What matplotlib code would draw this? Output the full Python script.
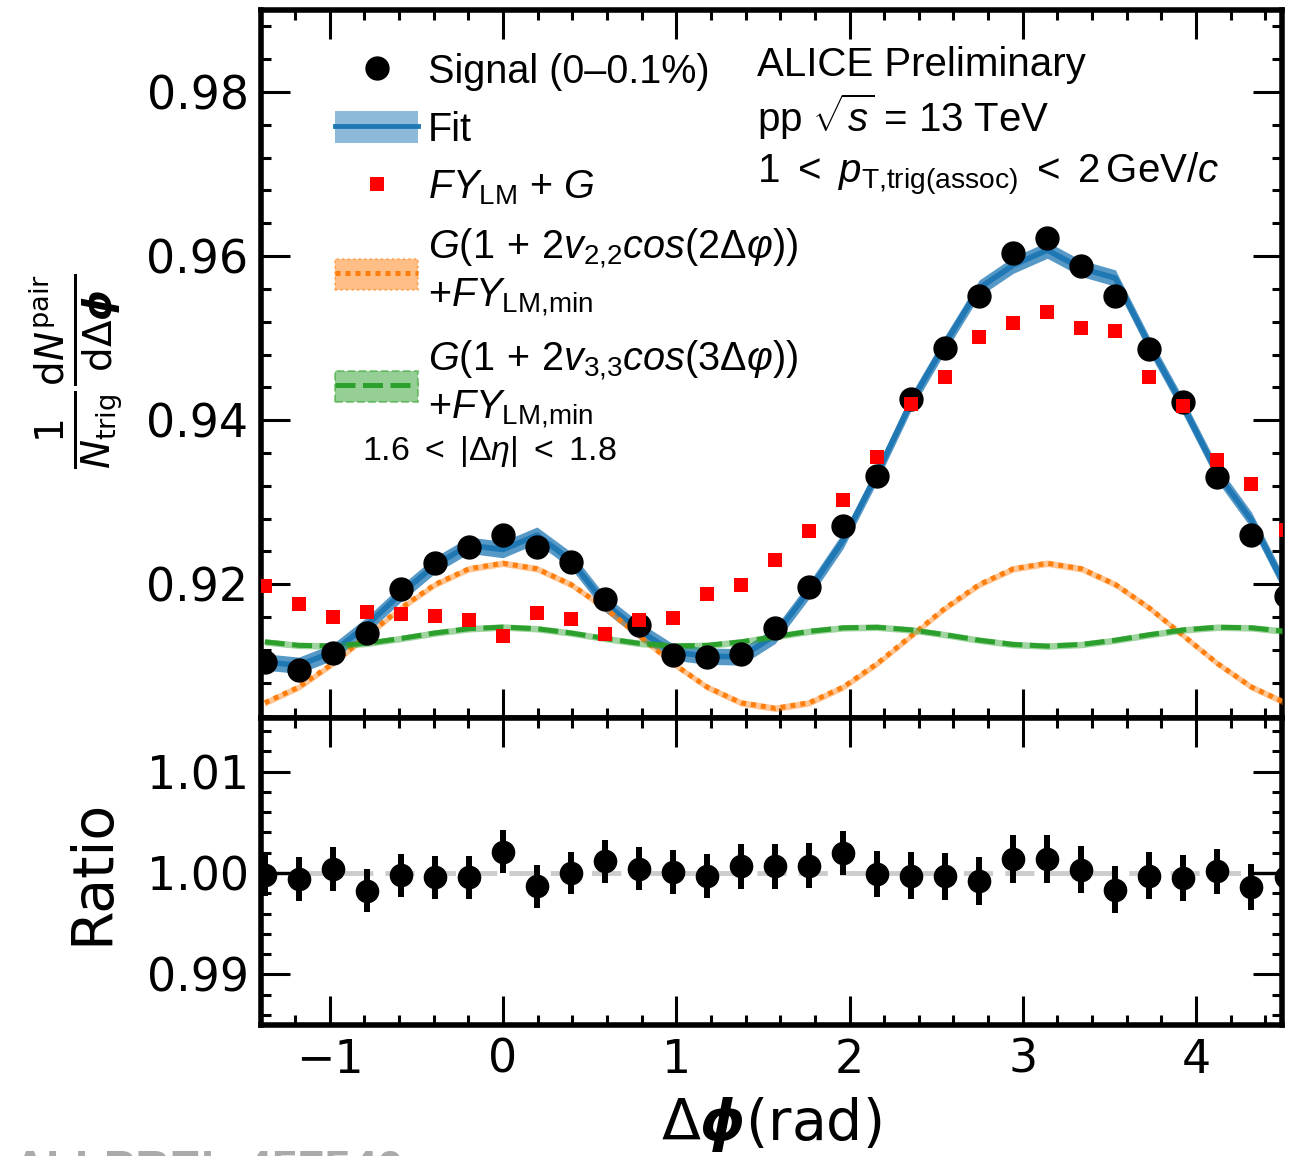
import numpy as np
import matplotlib
matplotlib.use("Agg")
import matplotlib.pyplot as plt
from matplotlib.lines import Line2D
from matplotlib.patches import Patch
from matplotlib.ticker import MultipleLocator, FormatStrFormatter

plt.rcParams.update({
    "font.family": "DejaVu Sans",
    "mathtext.fontset": "custom",
    "mathtext.rm": "Liberation Sans",
    "mathtext.it": "Liberation Sans:italic",
    "mathtext.bf": "Liberation Sans:bold",
    "mathtext.sf": "Liberation Sans",
})

# delta-phi bin centres, pi/16 wide
bin_index = np.arange(-7, 24)
dphi = bin_index * np.pi / 16

signal = np.array([
    0.91053, 0.90960, 0.91167, 0.91411, 0.91947, 0.92260, 0.92455, 0.92606,
    0.92455, 0.92272, 0.91825, 0.91508, 0.91134, 0.91114, 0.91155, 0.91472,
    0.91967, 0.92707, 0.93317, 0.94264, 0.94874, 0.95512, 0.96033, 0.96216,
    0.95878, 0.95512, 0.94862, 0.94223, 0.93309, 0.92598, 0.91854,
])
fit = np.array([
    0.91053, 0.91012, 0.91174, 0.91500, 0.91886, 0.92232, 0.92476, 0.92423,
    0.92598, 0.92293, 0.91764, 0.91439, 0.91174, 0.91124, 0.91114, 0.91378,
    0.91927, 0.92537, 0.93350, 0.94224, 0.94935, 0.95610, 0.95890, 0.96073,
    0.95850, 0.95732, 0.94915, 0.94163, 0.93350, 0.92780, 0.91967,
])
fy_plus_g = np.array([
    0.91976, 0.91756, 0.91601, 0.91662, 0.91642, 0.91614, 0.91561, 0.91366,
    0.91655, 0.91573, 0.91399, 0.91561, 0.91594, 0.91886, 0.91996, 0.92293,
    0.92646, 0.93033, 0.93553, 0.94203, 0.94528, 0.95008, 0.95179, 0.95321,
    0.95118, 0.95089, 0.94528, 0.94171, 0.93512, 0.93228, 0.92659,
])
v22_curve = np.array([
    0.90555, 0.90747, 0.91034, 0.91372, 0.91710, 0.91997, 0.92189, 0.92256,
    0.92189, 0.91997, 0.91710, 0.91372, 0.91034, 0.90747, 0.90555, 0.90488,
    0.90555, 0.90747, 0.91034, 0.91372, 0.91710, 0.91997, 0.92189, 0.92256,
    0.92189, 0.91997, 0.91710, 0.91372, 0.91034, 0.90747, 0.90555,
])
v33_curve = np.array([
    0.91298, 0.91255, 0.91248, 0.91280, 0.91339, 0.91406, 0.91458, 0.91478,
    0.91458, 0.91406, 0.91339, 0.91280, 0.91248, 0.91255, 0.91298, 0.91362,
    0.91426, 0.91469, 0.91476, 0.91444, 0.91385, 0.91318, 0.91266, 0.91246,
    0.91266, 0.91318, 0.91385, 0.91444, 0.91476, 0.91469, 0.91426,
])
ratio = np.array([
    0.99983, 0.99941, 1.00039, 0.99826, 0.99977, 0.99957, 0.99957, 1.00212,
    0.99869, 1.00000, 1.00114, 1.00042, 1.00010, 0.99967, 1.00065, 1.00065,
    1.00072, 1.00197, 0.99990, 0.99974, 0.99967, 0.99924, 1.00138, 1.00138,
    1.00033, 0.99836, 0.99974, 0.99951, 1.00016, 0.99862, 0.99960,
])
ratio_err = np.array([
    0.00213, 0.00216, 0.00216, 0.00213, 0.00213, 0.00213, 0.00213, 0.00210,
    0.00213, 0.00210, 0.00210, 0.00213, 0.00213, 0.00216, 0.00220, 0.00218,
    0.00220, 0.00220, 0.00226, 0.00230, 0.00230, 0.00236, 0.00236, 0.00236,
    0.00234, 0.00234, 0.00234, 0.00230, 0.00225, 0.00228, 0.00230,
])

# half widths of the uncertainty bands
fit_err = 0.001
v22_err = 0.0004
v33_err = 0.0004

label_font = "Liberation Sans"

fig = plt.figure(figsize=(12.89, 11.56), dpi=100)
ax = fig.add_axes([0.2025, 0.3789, 0.7921, 0.6125])
axr = fig.add_axes([0.2025, 0.1133, 0.7921, 0.2656], sharex=ax)

# --- upper panel -----------------------------------------------------------
ax.fill_between(dphi, fit - fit_err, fit + fit_err, color="C0", alpha=0.75,
                lw=0, zorder=1)
ax.plot(dphi, fit, color="C0", lw=4, zorder=2)
ax.fill_between(dphi, v22_curve - v22_err, v22_curve + v22_err, color="C1",
                alpha=0.45, lw=0, zorder=3)
ax.plot(dphi, v22_curve, color="C1", ls=(0, (1, 1)), lw=3.6, zorder=3)
ax.fill_between(dphi, v33_curve - v33_err, v33_curve + v33_err, color="C2",
                alpha=0.45, lw=0, zorder=4)
ax.plot(dphi, v33_curve, color="C2", ls=(0, (4, 1.5)), lw=3.6, zorder=4)
ax.plot(dphi, signal, ls="none", marker="o", color="black", ms=16.5, zorder=5)
ax.plot(dphi, fy_plus_g, ls="none", marker="s", color="red", ms=9.5,
        mew=0, zorder=6)

ax.set_xlim(-1.396, 4.496)
ax.set_ylim(0.9037, 0.990)

handles = [
    Line2D([], [], ls="none", marker="o", ms=16.5, color="black"),
    (Patch(facecolor="C0", alpha=0.5, edgecolor="none"),
     Line2D([], [], color="C0", lw=3.5)),
    Line2D([], [], ls="none", marker="s", ms=9.5, mew=0, color="red"),
    (Patch(facecolor="C1", alpha=0.5, edgecolor="C1", ls=":", lw=1.5),
     Line2D([], [], color="C1", ls=(0, (1, 1)), lw=3.6)),
    (Patch(facecolor="C2", alpha=0.5, edgecolor="C2", ls="--", lw=1.5),
     Line2D([], [], color="C2", ls=(0, (4, 1.5)), lw=3.6)),
]
labels = [
    "Signal (0–0.1%)",
    "Fit",
    r"$FY_{\mathrm{LM}}$ + $G$",
    r"$G(1\,+\,2v_{2{,}2}cos(2\Delta\varphi))$" + "\n"
    + r"$+FY_{\mathrm{LM{,}min}}$",
    r"$G(1\,+\,2v_{3{,}3}cos(3\Delta\varphi))$" + "\n"
    + r"$+FY_{\mathrm{LM{,}min}}$",
]
ax.legend(handles, labels, loc="upper left", bbox_to_anchor=(0.0725, 0.939),
          frameon=False, prop={"family": label_font, "size": 28.5},
          handlelength=2.1, handleheight=0.85, handletextpad=0.25,
          labelspacing=0.5, borderpad=0, borderaxespad=0, numpoints=1)

ax.text(0.099, 0.364, r"$1.6\ <\ |\Delta\eta|\ <\ 1.8$",
        transform=ax.transAxes, fontsize=24.5, family=label_font)
ax.text(0.486, 0.906, "ALICE Preliminary", transform=ax.transAxes,
        fontsize=29, family=label_font)
ax.text(0.486, 0.828, r"pp $\sqrt{s}$ = 13 TeV", transform=ax.transAxes,
        fontsize=29, family=label_font)
ax.text(0.486, 0.755,
        r"$1\ <\ p_{\mathrm{T{,}trig(assoc)}}\ <\ 2\,\mathrm{GeV}/c$",
        transform=ax.transAxes, fontsize=29, family=label_font)

ax.set_ylabel(r"$\frac{1}{N_{\mathrm{trig}}}\frac{\mathrm{d}N^{\mathrm{pair}}}"
              r"{\mathrm{d}\Delta\boldsymbol{\phi}}$",
              fontsize=40, math_fontfamily="dejavusans")
ax.yaxis.set_label_coords(-0.133, 0.49)
ax.yaxis.set_major_locator(MultipleLocator(0.02))
ax.yaxis.set_minor_locator(MultipleLocator(0.004))
ax.yaxis.set_major_formatter(FormatStrFormatter("%.2f"))

# --- ratio panel -----------------------------------------------------------
axr.axhline(1.0, color="#cccccc", ls=(0, (6, 2.5)), lw=3.5, zorder=1)
axr.errorbar(dphi, ratio, yerr=ratio_err, fmt="o", color="black", ms=16,
             elinewidth=4.3, capsize=0, zorder=3)
axr.set_ylim(0.985, 1.0153)
axr.yaxis.set_major_locator(MultipleLocator(0.01))
axr.yaxis.set_minor_locator(MultipleLocator(0.002))
axr.yaxis.set_major_formatter(FormatStrFormatter("%.2f"))
axr.set_ylabel("Ratio", fontsize=41)
axr.yaxis.set_label_coords(-0.138, 0.5)
axr.set_xlabel(r"$\Delta\boldsymbol{\phi}$(rad)", fontsize=41,
               math_fontfamily="dejavusans", labelpad=8)

for a in (ax, axr):
    a.xaxis.set_major_locator(MultipleLocator(1))
    a.xaxis.set_minor_locator(MultipleLocator(0.2))
    a.tick_params(which="both", direction="in", top=True, right=True,
                  width=2.2, labelsize=33, pad=9)
    a.tick_params(which="major", length=21)
    a.tick_params(which="minor", length=7.5)
    for spine in a.spines.values():
        spine.set_linewidth(4)
ax.tick_params(labelbottom=False)

# preprint number along the lower edge
fig.text(0.01, 0.006, "ALI-PREL-457540", fontsize=34, fontweight="bold",
         family=label_font, color="#aaaaaa", va="top")

fig.savefig("out.png", dpi=100)
